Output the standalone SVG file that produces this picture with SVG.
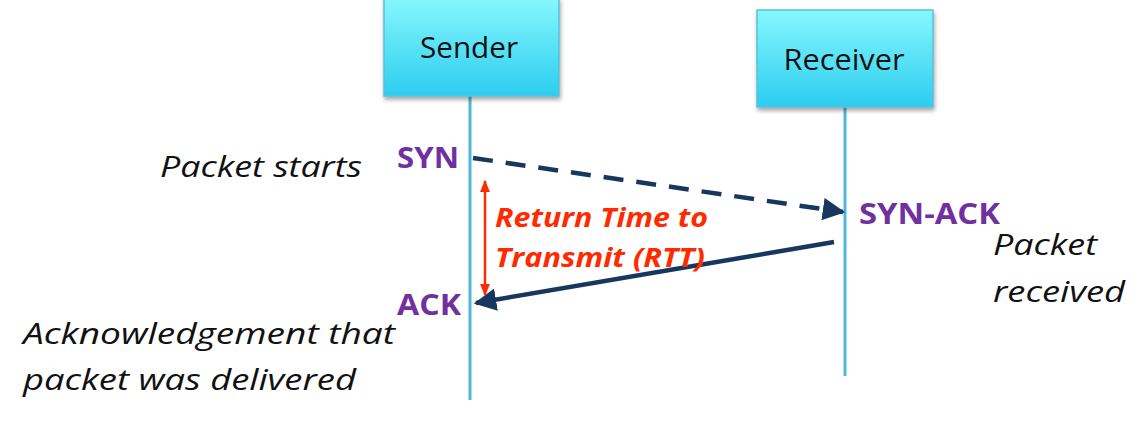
<svg xmlns="http://www.w3.org/2000/svg" width="1139" height="422" viewBox="0 0 1139 422">
<defs>
<linearGradient id="boxg" x1="0" y1="0" x2="0" y2="1">
<stop offset="0" stop-color="#86f7fd"/>
<stop offset="1" stop-color="#2ccdf0"/>
</linearGradient>
<filter id="sh" x="-10%" y="-10%" width="130%" height="130%">
<feDropShadow dx="1" dy="3" stdDeviation="2" flood-color="#000" flood-opacity="0.35"/>
</filter>
<marker id="ah" viewBox="0 0 10 10" refX="9" refY="5" markerWidth="5" markerHeight="5" orient="auto" markerUnits="strokeWidth">
<path d="M0,0 L10,5 L0,10 z" fill="#17375e"/>
</marker>
<marker id="rh" viewBox="0 0 10 10" refX="9" refY="5" markerWidth="5" markerHeight="5" orient="auto-start-reverse" markerUnits="strokeWidth">
<path d="M0,1 L10,5 L0,9 z" fill="#ff2a00"/>
</marker>
</defs>
<style>
.box{fill:url(#boxg);stroke:#5bbfdc;stroke-width:1.5;filter:url(#sh)}
.life{stroke:#4db8d8;stroke-width:3;fill:none}
.title{font-family:"Open Sans",sans-serif;font-size:30px;fill:#111;text-anchor:middle}
.msg{font-family:"Open Sans",sans-serif;font-weight:bold;font-size:29px;fill:#7030a0}
.note{font-family:"Open Sans",sans-serif;font-style:italic;font-size:29px;fill:#111}
.rtt{font-family:"Open Sans",sans-serif;font-style:italic;font-weight:bold;font-size:27px;fill:#ff2a00}
.conn{stroke:#17375e;stroke-width:4.5;fill:none}
</style>
<rect width="1139" height="422" fill="#fff"/>
<g id="connectors">
<line class="life" x1="470" y1="96" x2="470" y2="400"/>
<line class="life" x1="845" y1="107" x2="845" y2="376"/>
<line class="conn" x1="473" y1="158" x2="843" y2="212" stroke-dasharray="20,13" marker-end="url(#ah)"/>
<line class="conn" x1="834" y1="242" x2="476" y2="303" marker-end="url(#ah)"/>
<line x1="485" y1="181" x2="485" y2="295" stroke="#ff2a00" stroke-width="2.5" marker-start="url(#rh)" marker-end="url(#rh)"/>
</g>
<g id="sender">
<rect class="box" x="384" y="-2" width="175" height="98"/>
<text class="title" x="469" y="58" textLength="98" lengthAdjust="spacingAndGlyphs">Sender</text>
</g>
<g id="receiver">
<rect class="box" x="757" y="10" width="176" height="97"/>
<text class="title" x="844" y="70" textLength="121" lengthAdjust="spacingAndGlyphs">Receiver</text>
</g>
<g id="labels">
<text class="msg" x="397" y="168" textLength="62" lengthAdjust="spacingAndGlyphs">SYN</text>
<text class="msg" x="859" y="224" textLength="141" lengthAdjust="spacingAndGlyphs">SYN-ACK</text>
<text class="msg" x="397" y="315" textLength="64" lengthAdjust="spacingAndGlyphs">ACK</text>
<text class="note" x="160" y="177" textLength="202" lengthAdjust="spacingAndGlyphs">Packet starts</text>
<text class="note" x="993" y="255" textLength="104" lengthAdjust="spacingAndGlyphs">Packet</text>
<text class="note" x="993" y="302" textLength="132" lengthAdjust="spacingAndGlyphs">received</text>
<text class="note" x="23" y="344" textLength="372" lengthAdjust="spacingAndGlyphs">Acknowledgement that</text>
<text class="note" x="23" y="390" textLength="333" lengthAdjust="spacingAndGlyphs">packet was delivered</text>
<text class="rtt" x="495" y="227" textLength="213" lengthAdjust="spacingAndGlyphs">Return Time to</text>
<text class="rtt" x="495" y="267" textLength="210" lengthAdjust="spacingAndGlyphs">Transmit (RTT)</text>
</g>
</svg>
